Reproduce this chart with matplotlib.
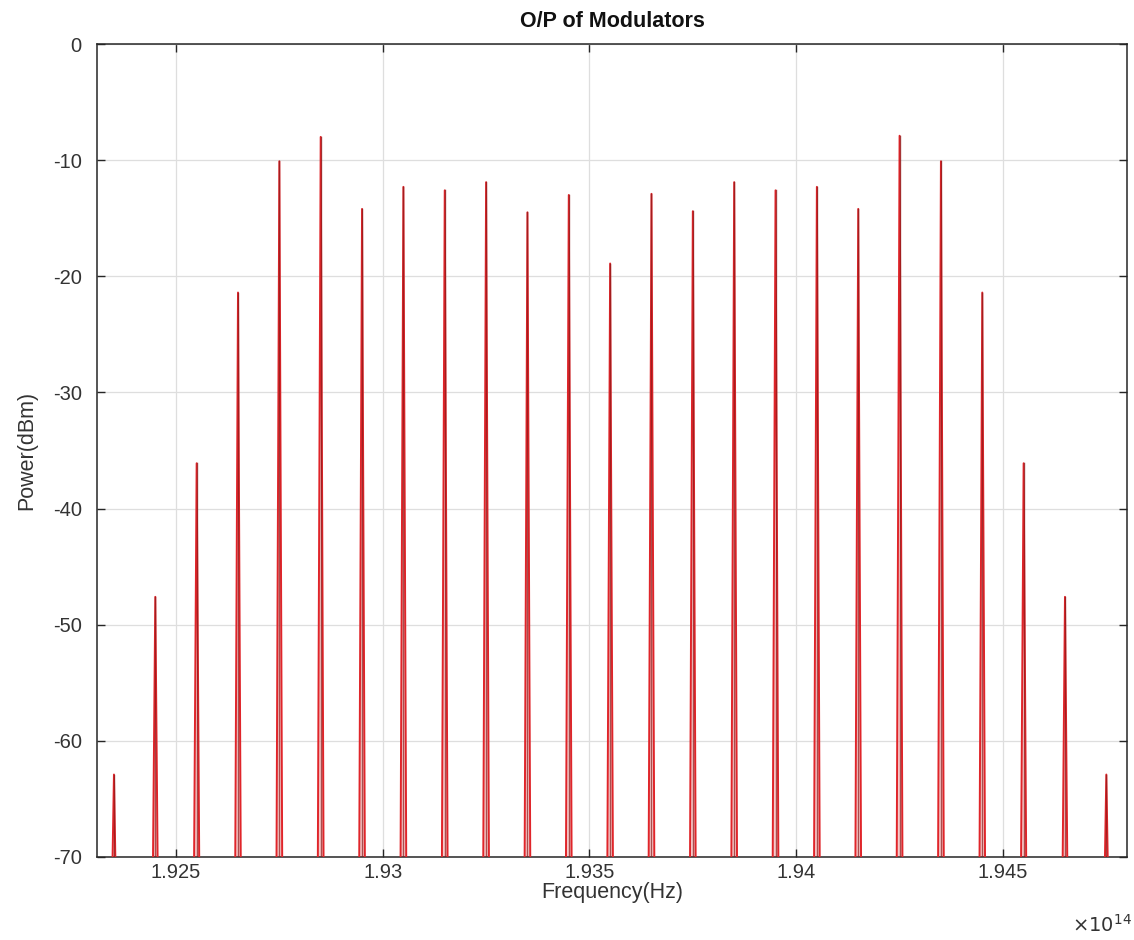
import numpy as np
import matplotlib
matplotlib.use("Agg")
import matplotlib.pyplot as plt

# ---- data ----
channel_index = list(range(25))
base_freq_hz = 1.9235e14
spacing_hz = 1.0e11
peak_freqs_hz = [base_freq_hz + k * spacing_hz for k in channel_index]
peak_power_dbm = [-62.9, -47.6, -36.1, -21.4, -10.1, -8.0, -14.2, -12.3, -12.6,
                  -11.9, -14.5, -13.0, -18.9, -12.9, -14.4, -11.9, -12.6, -12.3,
                  -14.2, -7.9, -10.1, -21.4, -36.1, -47.6, -62.9]
xtick_vals = [1.925e14, 1.930e14, 1.935e14, 1.940e14, 1.945e14]
xtick_labels = ["1.925", "1.93", "1.935", "1.94", "1.945"]
ytick_vals = [0, -10, -20, -30, -40, -50, -60, -70]
ytick_labels = ["0", "-10", "-20", "-30", "-40", "-50", "-60", "-70"]

plt.rcParams['font.family'] = ['Liberation Sans', 'DejaVu Sans']

fig = plt.figure(figsize=(11.34, 9.4), dpi=100)
ax = fig.add_axes([97/1134, 83/940, 1030/1134, 813/940])

floor = -80.0
half_w = 8e9
for f, p in zip(peak_freqs_hz, peak_power_dbm):
    xs = [f - half_w, f, f + half_w]
    ys = [floor, p, floor]
    ax.fill(xs, ys, color='#f4a0a0', alpha=0.55, lw=0, zorder=2)
    ax.plot(xs, ys, color='#e0252a', lw=1.4, zorder=3)
    ax.plot([f, f], [floor, p], color='#8a1a1a', lw=1.0, zorder=4, alpha=0.7)

ax.set_xlim(1.92309e14, 1.94800e14)
ax.set_ylim(-70, 0)
ax.set_xticks(xtick_vals)
ax.set_xticklabels(xtick_labels)
ax.set_yticks(ytick_vals)
ax.set_yticklabels(ytick_labels)

ax.grid(True, color='#dedede', lw=0.9, zorder=0)
ax.set_axisbelow(True)
ax.tick_params(direction='in', top=True, right=True, length=6, width=1,
               colors='#262626', labelsize=14.5, labelcolor='#333333')
ax.tick_params(axis='x', pad=4)
ax.tick_params(axis='y', pad=11)
for s in ax.spines.values():
    s.set_color('#262626')
    s.set_linewidth(1.1)

ax.set_xlabel('Frequency(Hz)', fontsize=15.5, color='#333333', labelpad=0)
ax.set_ylabel('Power(dBm)', fontsize=15.5, color='#333333', labelpad=11)
ax.set_title('O/P of Modulators', fontsize=15.5, fontweight='bold', color='#111111', pad=12)

fig.text(1102/1134, 1 - 925/940, r'$\times10^{14}$', fontsize=14, color='#333333',
         ha='center', va='center')

fig.savefig('out.png', dpi=100)
